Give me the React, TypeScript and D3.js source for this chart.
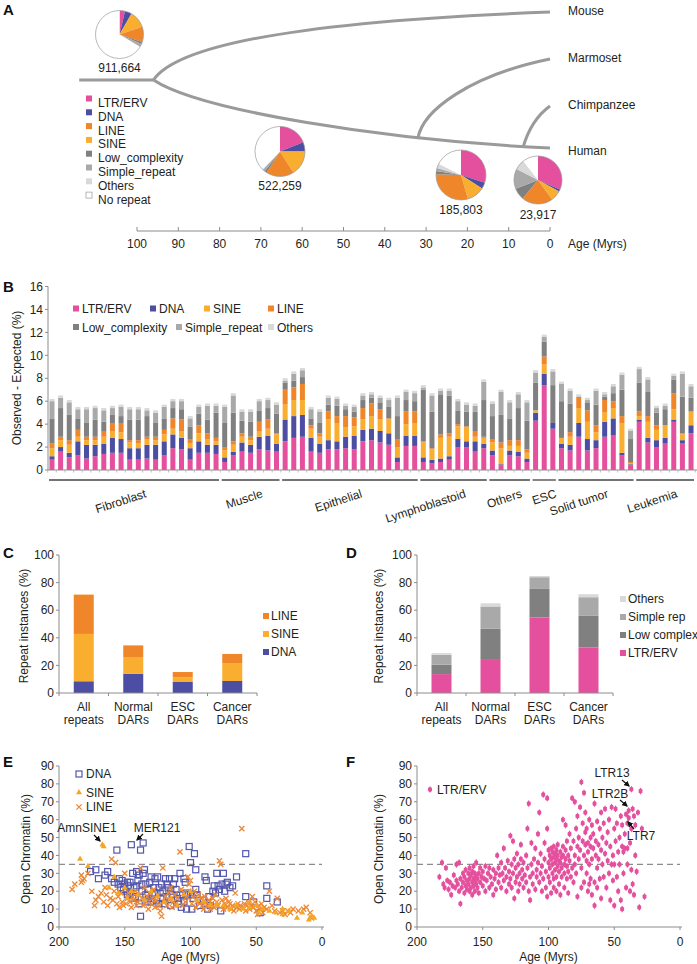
import React from 'react';
import * as d3 from 'd3';

const FONT = '"Liberation Sans", Arial, Helvetica, sans-serif';
const TXT = '#231F20';
const AXC = '#8C8C8C';
const C_LTR = '#E4509E';
const C_DNA = '#4B4EA2';
const C_LINE = '#F0862A';
const C_SINE = '#F9AE2F';
const C_LOW = '#808080';
const C_SIMPLE = '#A9A9A9';
const C_OTHERS = '#D9D9D9';

// ---------------- Panel A data ----------------
const speciesNames = ['Mouse', 'Marmoset', 'Chimpanzee', 'Human'];
const ageTicksA = [100, 90, 80, 70, 60, 50, 40, 30, 20, 10, 0];
const rootAge = 114;
const splitAges = [96, 32, 6.5];
const pieCounts = ['911,664', '522,259', '185,803', '23,917'];
const pieLTR = [3.7, 19, 30, 31.5];
const pieDNA = [4.6, 6, 4, 1.5];
const pieSINE = [11.5, 16, 11.5, 7];
const pieLINE = [10.3, 18, 30, 21];
const pieLow = [1.4, 1.5, 2, 8];
const pieSimple = [2, 1.5, 2, 13.5];
const pieOthers = [0.5, 0.5, 3, 7];
const pieNone = [66, 37.5, 17.5, 10.5];
const pieLegend = ['LTR/ERV', 'DNA', 'LINE', 'SINE', 'Low_complexity', 'Simple_repeat', 'Others', 'No repeat'];

// ---------------- Panel B data ----------------
const groupNames = ['Fibroblast', 'Muscle', 'Epithelial', 'Lymphoblastoid', 'Others', 'ESC', 'Solid tumor', 'Leukemia'];
const groupSizes = [20, 7, 16, 8, 5, 3, 9, 7];
const ticksB = [0, 2, 4, 6, 8, 10, 12, 14, 16];
const ltrB = [0.9,1.6,1.1,1.3,1.0,1.2,1.4,1.5,1.5,0.9,0.9,1.0,0.9,1.3,1.9,1.8,0.9,1.5,1.5,1.4, 0.7,1.3,1.6,1.5,1.8,1.7,1.6, 2.5,2.8,2.9,1.6,1.5,1.8,1.8,1.9,1.8,2.5,2.6,2.4,2.2,0.7,2.1,2.1, 0.7,0.6,0.7,0.9,2.0,2.0,1.6,1.9, 1.3,0.4,1.3,1.2,0.7, 4.3,7.4,3.6, 1.9,1.7,2.9,1.7,1.9,2.9,3.0,1.3,0.4, 4.2,2.4,2.0,2.3,4.2,2.3,3.2];
const dnaB = [0.3,0.4,0.4,1.2,1.2,1.0,0.9,1.3,1.2,1.0,1.0,1.2,1.3,1.2,1.2,1.0,1.0,1.0,0.7,0.8, 0.4,0.3,0.8,0.7,1.1,1.3,0.7, 1.9,1.9,1.9,1.2,0.8,0.8,0.7,1.0,1.2,1.0,1.0,1.0,1.0,0.4,0.9,0.9, 0.4,0.3,0.3,0.3,0.7,0.5,0.9,0.4, 0.4,0.1,0.4,0.4,0.3, 0.7,1.0,0.5, 0.4,0.5,1.2,1.0,0.7,1.3,1.5,0.2,0.1, 0.2,0.4,0.6,0.5,0.2,0.3,0.7];
const sineB = [0.7,0.6,0.7,0.4,0.4,0.4,0.6,0.6,0.6,0.5,0.4,0.5,0.4,0.6,0.5,0.6,0.4,0.7,0.5,0.3, 0.6,0.6,0.5,0.4,0.5,0.6,0.8, 1.3,1.4,1.3,0.8,0.6,1.8,1.6,0.8,0.8,0.9,1.1,1.0,1.2,0.9,1.0,1.1, 1.3,0.9,1.8,1.7,1.1,1.2,0.4,0.5, 0.7,1.4,0.4,0.5,0.5, 0.2,0.8,0.0, 0.5,0.7,1.3,1.5,0.7,0.8,0.9,2.6,0.1, 0.3,1.4,0.9,1.1,0.9,0.5,1.2];
const lineB = [0.4,0.3,0.4,0.6,0.3,0.3,0.5,0.7,0.8,0.2,0.3,0.2,0.3,0.4,0.9,1.0,0.4,0.7,0.5,0.3, 0.3,0.3,0.3,0.3,0.8,0.8,0.1, 1.3,1.1,1.4,0.3,0.3,0.7,0.6,1.0,0.8,1.0,1.1,0.9,0.1,0.7,1.1,1.0, 0.1,0.1,0.3,0.3,0.2,0.1,0.5,0.1, 0.3,0.5,0.5,0.5,0.3, 0.0,0.7,0.0, 0.0,0.4,0.9,1.0,0.6,1.1,0.6,0.6,0.1, 0.4,0.5,0.4,0.0,1.4,0.1,0.0];
const lowB = [2.2,2.5,2.2,1.0,1.2,1.5,0.8,0.7,0.6,1.8,1.8,1.8,1.2,1.0,0.9,0.9,1.1,1.0,1.2,2.2, 2.1,2.5,1.1,1.3,1.0,1.0,1.7, 0.6,0.6,0.6,0.6,0.9,0.6,0.9,0.6,0.5,0.7,0.5,0.6,1.0,2.0,1.0,0.9, 4.5,3.2,3.5,3.3,1.2,1.3,1.7,3.2, 2.0,2.4,1.9,2.8,2.5, 2.4,1.3,3.3, 3.2,2.5,0.1,0.7,1.8,0.3,0.7,2.3,2.0, 2.5,2.1,1.1,1.4,1.2,3.2,1.2];
const simpleB = [1.5,0.9,1.1,0.8,1.2,1.0,1.0,0.6,0.8,0.9,0.9,0.5,0.9,1.0,0.6,0.7,0.7,0.6,1.2,0.6, 1.4,1.5,0.8,0.9,0.8,0.7,0.8, 0.2,0.6,0.6,0.8,1.0,0.6,0.6,0.3,0.4,0.4,0.3,0.4,0.6,1.6,0.7,0.7, 0.2,1.4,0.3,0.4,0.8,0.6,0.5,1.6, 1.1,2.0,1.4,1.2,1.6, 0.9,0.4,1.2, 1.5,1.1,0.0,0.2,1.2,0.2,0.6,1.3,0.7, 1.2,1.1,0.4,0.3,0.3,2.0,1.0];
const othersB = [0.2,0.2,0.2,0.2,0.2,0.2,0.2,0.2,0.2,0.2,0.2,0.2,0.2,0.2,0.2,0.2,0.2,0.2,0.2,0.2, 0.2,0.2,0.2,0.2,0.2,0.2,0.2, 0.2,0.2,0.2,0.2,0.2,0.2,0.2,0.2,0.2,0.2,0.2,0.2,0.2,0.2,0.2,0.2, 0.2,0.2,0.2,0.2,0.2,0.2,0.2,0.2, 0.2,0.2,0.2,0.2,0.2, 0.2,0.2,0.2, 0.2,0.2,0.2,0.2,0.2,0.2,0.2,0.2,0.2, 0.2,0.2,0.2,0.2,0.2,0.2,0.2];

// ---------------- Panels C / D data ----------------
const catLine1 = ['All', 'Normal', 'ESC', 'Cancer'];
const catLine2 = ['repeats', 'DARs', 'DARs', 'DARs'];
const ticksCD = [0, 20, 40, 60, 80, 100];
const cDNA = [8.5, 14.0, 8.0, 8.7];
const cSINE = [34.3, 12.1, 3.4, 13.0];
const cLINE = [28.5, 8.4, 3.8, 6.6];
const dLTR = [13.7, 24.6, 54.7, 33.0];
const dLow = [6.8, 21.9, 20.7, 22.9];
const dSimple = [7.2, 16.2, 8.5, 13.5];
const dOthers = [1.2, 2.3, 0.9, 2.2];

// ---------------- Panels E / F data (age Myrs, open chromatin %) ----------------
const ticksEFx = [200, 150, 100, 50, 0];
const ticksEFy = [0, 10, 20, 30, 40, 50, 60, 70, 80, 90];
const thresholdEF = 35;
const dnaPts = [[176,31],[172,32],[170,27],[165,29],[163,31],[160,27],[158,25],[156,43],[155,24],[153,22],[152,26],[150,24],[149,20],[148,18],[147,23],[146,25],[145,46],[144,30],[143,22],[142,17],[141,31],[140,26],[139,13],[138,6],[138,43],[137,24],[136,47],[136,30],[135,32],[134,18],[133,14],[132,21],[131,25],[130,14],[129,18],[128,22],[127,27],[126,15],[125,28],[124,13],[123,19],[122,24],[121,20],[120,13],[119,27],[118,17],[117,22],[116,27],[115,12],[114,18],[113,24],[112,27],[110,16],[109,13],[108,30],[107,11],[106,18],[105,14],[104,25],[103,10],[102,18],[101,45],[100,36],[99,10],[98,16],[97,41],[96,32],[95,18],[93,12],[90,15],[89,28],[88,26],[87,10],[86,17],[85,12],[83,20],[82,23],[81,19],[80,30],[79,23],[78,21],[77,9],[76,24],[75,30],[74,20],[73,24],[72,25],[70,22],[68,23],[65,28],[58,41],[58,17],[52,14],[47,8],[42,23],[42,16],[34,14],[154,27],[151,21],[148,25],[146,19],[144,16],[141,23],[139,29],[137,20],[134,24],[132,16],[130,28],[127,19],[124,22],[121,16],[118,24],[115,20],[111,21],[108,18],[105,27],[103,19],[100,18],[96,21]];
const sinePts = [[184,38],[178,34],[167,46],[166,45],[162,22],[158,28],[155,19],[150,22],[148,16],[145,20],[140,18],[135,15],[130,20],[125,17],[120,14],[115,16],[110,12],[105,18],[100,20],[95,15],[90,14],[85,12],[80,13],[75,12],[70,10],[65,12],[60,10],[55,11],[50,12],[45,10],[40,9],[35,8],[30,7],[25,9],[19,5],[15,8],[10,4],[8,6],[6,5],[30,10],[55,14],[48,8]];
const linePts = [[190,21],[188,24],[183,25],[183,29],[182,26],[181,27],[178,30],[175,20],[173,12],[172,15],[170,17],[168,19],[166,14],[165,22],[164,18],[163,12],[161,16],[160,38],[159,15],[158,20],[157,36],[156,13],[155,17],[154,11],[153,19],[152,14],[151,12],[150,30],[149,13],[148,16],[147,19],[146,14],[145,11],[144,17],[143,15],[142,20],[141,12],[140,14],[139,18],[138,33],[137,16],[136,12],[135,22],[134,14],[133,17],[132,10],[131,19],[130,13],[129,16],[128,21],[127,11],[126,15],[125,18],[124,12],[123,9],[122,6],[121,33],[120,14],[119,17],[118,12],[117,19],[116,15],[115,22],[114,11],[113,14],[112,18],[111,13],[110,16],[108,42],[107,21],[106,12],[105,19],[104,14],[103,17],[102,28],[101,24],[100,26],[99,13],[98,17],[97,20],[96,11],[95,14],[94,18],[93,13],[92,16],[91,12],[90,10],[89,17],[88,14],[87,12],[86,15],[85,10],[84,13],[83,16],[82,11],[81,18],[80,14],[79,12],[78,37],[77,35],[76,15],[75,10],[74,13],[73,16],[72,11],[71,14],[70,13],[69,10],[68,12],[67,9],[66,19],[65,11],[64,13],[63,10],[62,12],[61,55],[60,11],[59,13],[58,9],[57,12],[56,14],[55,10],[54,12],[53,17],[52,11],[51,14],[50,9],[49,7],[48,12],[47,10],[46,13],[45,8],[44,11],[42,10],[40,20],[38,12],[36,9],[34,16],[32,8],[30,9],[28,7],[26,9],[24,8],[22,10],[18,9],[14,10],[12,11],[9,8],[8,5]];
const ltrPts = [[183,28],[181,36],[180,24],[179,22],[178,33],[177,26],[176,21],[175,25],[174,18],[173,23],[172,29],[171,22],[170,35],[170,26],
[169,24],[168,20],[168,36],[167,13],[167,27],[166,22],[165,30],[165,25],[164,19],[164,28],[163,23],[163,32],[162,26],[162,21],[161,30],[161,24],[160,33],[160,27],[160,20],[159,22],[159,29],[158,25],[158,31],[158,18],[157,27],[157,23],[157,34],[156,26],[156,20],[156,30],[155,28],[155,24],[155,36],[154,22],[154,27],
[153,30],[153,19],[152,25],[152,33],[151,28],[150,23],[150,31],[149,27],[148,20],[148,34],[147,26],[146,30],[145,22],[145,33],[144,28],[143,24],[142,18],[142,32],[141,27],[140,30],[140,21],
[139,40],[138,25],[138,33],[137,29],[136,22],[136,36],[135,30],[134,26],[134,44],[133,33],[132,20],[132,28],[131,37],[130,24],[130,31],[129,51],[129,27],[128,35],[128,22],[127,48],[127,30],[126,38],[126,16],[125,25],[125,33],[124,28],[124,41],[123,20],[123,35],[122,30],[122,24],[121,46],[121,38],[120,27],[120,32],
[119,22],[119,36],[118,29],[117,40],[117,25],[116,55],[116,33],[115,69],[115,20],[114,15],[114,28],[113,47],[113,35],[112,30],[112,24],[111,38],[110,21],[110,44],[109,32],[109,28],[108,36],[108,52],[107,25],[107,64],[106,30],[106,41],[105,20],[105,34],[104,74],[104,27],[103,47],[103,38],[102,31],[102,22],[101,72],[101,55],[101,17],[100,36],[100,28],[100,43],
[99,40],[99,33],[99,25],[98,44],[98,38],[98,19],[97,42],[97,35],[97,30],[96,39],[96,45],[96,27],[96,22],[95,41],[95,36],[95,32],[94,43],[94,38],[94,28],[94,20],[93,40],[93,34],[93,46],[92,37],[92,31],[92,24],[91,42],[91,36],[91,18],[90,39],[90,33],[90,28],[89,45],[89,40],[89,60],[88,35],[88,30],[88,22],[87,43],[87,38],[87,57],[86,34],[86,27],[86,48],[85,40],[85,31],[85,19],
[84,37],[84,52],[83,44],[83,28],[82,72],[82,33],[81,48],[81,25],[80,70],[80,40],[80,35],[79,55],[79,30],[78,45],[78,62],[78,17],[77,50],[77,38],[76,67],[76,43],[75,81],[75,33],[75,22],[74,58],[74,48],[73,75],[73,40],[73,25],[72,53],[72,46],[72,64],[71,37],[71,30],[71,55],[70,47],[70,42],[70,20],[69,60],[69,35],[69,24],[68,45],[68,50],[68,27],[67,57],[67,38],[67,18],[66,44],[66,52],[65,25],[65,12],[65,69],[64,40],[64,48],[63,59],[63,22],[63,33],[62,46],[62,38],[61,55],[61,27],[60,64],[60,43],[60,16],
[59,50],[59,35],[58,58],[58,28],[57,41],[57,66],[56,47],[56,22],[55,53],[55,37],[54,30],[54,60],[53,45],[53,15],[52,67],[52,35],[51,40],[51,26],[50,55],[50,12],[50,35],[49,66],[49,48],[48,28],[48,58],[47,42],[47,20],[46,50],[46,35],[45,62],[45,15],[44,45],[44,10],[44,57],[43,42],[43,30],[42,52],[42,44],[41,63],[41,22],[40,44],[40,58],[40,35],
[39,65],[39,61],[38,47],[38,20],[37,77],[37,32],[37,55],[36,66],[36,24],[35,62],[35,18],[34,57],[34,40],[33,31],[32,64],[31,11],[30,76],[29,55],[27,17]];

const T = (props: any) => <text fontFamily={FONT} fill={TXT} fontSize={12} {...props} />;

function PanelLetter({ x, y, s }: any) {
  return <text x={x} y={y} fontFamily={FONT} fontWeight="bold" fontSize={15} fill="#111">{s}</text>;
}

// ---------------- Panel A ----------------
function PanelA() {
  const x = d3.scaleLinear().domain([100, 0]).range([137, 550]);
  const [s1, s2, s3] = splitAges;
  const rootY = 80;
  const paths = [
    `M${x(rootAge)},${rootY} L${x(s1)},${rootY}`,
    `M${x(s1)},${rootY} C${x(s1 - 6.5)},40 ${x(53)},20 ${x(0)},12`,
    `M${x(s1)},${rootY} C${x(s1 - 11)},110 ${x(41)},140 ${x(0)},148`,
    `M${x(s2)},139 C${x(s2 - 1)},110 ${x(19)},75 ${x(0)},59`,
    `M${x(s3)},147 C${x(s3 - 1.2)},130 ${x(3)},115 ${x(0)},106`,
  ];
  const speciesY = [15, 62, 109, 155];
  const pieLayout = [
    { cx: 119.5, cy: 34.5, r: 24, ly: 72 },
    { cx: 280, cy: 151.5, r: 25, ly: 190 },
    { cx: 461, cy: 175, r: 25, ly: 214 },
    { cx: 538, cy: 180, r: 24, ly: 219 },
  ];
  const pieCols = [C_LTR, C_DNA, C_SINE, C_LINE, C_LOW, C_SIMPLE, C_OTHERS, '#FFFFFF'];
  const legendCols = [C_LTR, C_DNA, C_LINE, C_SINE, C_LOW, C_SIMPLE, C_OTHERS, '#FFFFFF'];
  const pieGen = d3.pie<number>().sort(null).value((d) => d);
  return (
    <g>
      <PanelLetter x={3} y={15} s="A" />
      {paths.map((p, i) => (
        <path key={i} d={p} fill="none" stroke="#9A9A9A" strokeWidth={3} strokeLinecap="butt" />
      ))}
      {speciesNames.map((s, i) => (
        <T key={s} x={568} y={speciesY[i]}>{s}</T>
      ))}
      {pieCounts.map((c, i) => {
        const L = pieLayout[i];
        const vals = [pieLTR[i], pieDNA[i], pieSINE[i], pieLINE[i], pieLow[i], pieSimple[i], pieOthers[i], pieNone[i]];
        const arcs = pieGen(vals);
        const arc = d3.arc<any>().innerRadius(0).outerRadius(L.r);
        return (
          <g key={c}>
            <g transform={`translate(${L.cx},${L.cy})`}>
              {arcs.map((a, j) => (
                <path key={j} d={arc(a) as string} fill={pieCols[j]} />
              ))}
              <circle r={L.r} fill="none" stroke="#9A9A9A" strokeWidth={0.7} />
            </g>
            <T x={L.cx} y={L.ly} textAnchor="middle">{c}</T>
          </g>
        );
      })}
      {pieLegend.map((s, i) => (
        <g key={s}>
          <rect x={86} y={103 + i * 13.8 - 7.5} width={6} height={6} fill={legendCols[i]} stroke={i === 7 ? '#999' : 'none'} strokeWidth={0.7} />
          <T x={98} y={103 + i * 13.8 + 4}>{s}</T>
        </g>
      ))}
      <line x1={x(100)} x2={x(0)} y1={231} y2={231} stroke={AXC} strokeWidth={1} />
      {ageTicksA.map((t) => (
        <g key={t}>
          <line x1={x(t)} x2={x(t)} y1={231} y2={227} stroke={AXC} />
          <T x={x(t)} y={248} textAnchor="middle">{t}</T>
        </g>
      ))}
      <T x={568} y={248}>Age (Myrs)</T>
    </g>
  );
}

// ---------------- Panel B ----------------
const keysB = ['ltr', 'dna', 'sine', 'line', 'low', 'simple', 'others'];
const colB = [C_LTR, C_DNA, C_SINE, C_LINE, C_LOW, C_SIMPLE, C_OTHERS];
function PanelB() {
  const n = ltrB.length;
  const rows = ltrB.map((v, i) => ({ ltr: v, dna: dnaB[i], sine: sineB[i], line: lineB[i], low: lowB[i], simple: simpleB[i], others: othersB[i] }));
  const series = d3.stack<any>().keys(keysB)(rows);
  const x = d3.scaleBand<number>().domain(d3.range(n)).range([48, 695]).paddingInner(0.42).paddingOuter(0.17);
  const y = d3.scaleLinear().domain([0, 16]).range([470, 286.5]);
  const bw = x.bandwidth();
  const step = x.step();
  let start = 0;
  const groups = groupNames.map((g, i) => {
    const s = start;
    const e = start + groupSizes[i] - 1;
    start += groupSizes[i];
    return { g, x0: (x(s) as number) - 0.5, x1: (x(e) as number) + bw + 0.5 };
  });
  const legendItems = [
    { t: 'LTR/ERV', c: C_LTR, x: 76, y: 309 },
    { t: 'DNA', c: C_DNA, x: 153, y: 309 },
    { t: 'SINE', c: C_SINE, x: 207, y: 309 },
    { t: 'LINE', c: C_LINE, x: 271, y: 309 },
    { t: 'Low_complexity', c: C_LOW, x: 76, y: 327.5 },
    { t: 'Simple_repeat', c: C_SIMPLE, x: 179, y: 327.5 },
    { t: 'Others', c: C_OTHERS, x: 271, y: 327.5 },
  ];
  return (
    <g>
      <PanelLetter x={3} y={292} s="B" />
      {series.map((s, k) => (
        <g key={k} fill={colB[k]}>
          {s.map((d, i) => (
            <rect key={i} x={x(i)} y={y(d[1])} width={bw} height={Math.max(0, y(d[0]) - y(d[1]))} />
          ))}
        </g>
      ))}
      <line x1={48} x2={48} y1={286.5} y2={470} stroke={AXC} />
      {ticksB.map((t) => (
        <g key={t}>
          <line x1={45} x2={48} y1={y(t)} y2={y(t)} stroke={AXC} />
          <T x={43} y={y(t)} dy="0.35em" textAnchor="end">{t}</T>
        </g>
      ))}
      <line x1={48} x2={697} y1={470} y2={470} stroke={AXC} />
      {d3.range(n + 1).map((i) => (
        <line key={i} x1={48 + x.paddingOuter() * step + i * step - (step - bw) / 2} x2={48 + x.paddingOuter() * step + i * step - (step - bw) / 2} y1={470} y2={472.5} stroke="#B0B0B0" strokeWidth={0.8} />
      ))}
      <T x={21} y={378} textAnchor="middle" transform="rotate(-90,21,378)">Observed - Expected (%)</T>
      {legendItems.map((l) => (
        <g key={l.t}>
          <rect x={l.x - 3} y={l.y - 3.5} width={6} height={6} fill={l.c} />
          <T x={l.x + 6} y={l.y} dy="0.35em">{l.t}</T>
        </g>
      ))}
      {groups.map((g) => {
        const cx = (g.x0 + g.x1) / 2 + 13;
        const cy = 497;
        return (
          <g key={g.g}>
            <line x1={g.x0} x2={g.x1} y1={480} y2={480} stroke="#444" strokeWidth={1.3} />
            <T x={cx} y={cy} textAnchor="end" transform={`rotate(-18,${cx},${cy})`}>{g.g}</T>
          </g>
        );
      })}
    </g>
  );
}

// ---------------- Panels C / D ----------------
function StackPanel({ x0, x1, letter, letterX, labelX, values, colors, legend, legendX, legendY }: any) {
  const y = d3.scaleLinear().domain([0, 100]).range([693, 555]);
  const x = d3.scaleBand<number>().domain(d3.range(catLine1.length)).range([x0, x1]).padding(0);
  const rows = catLine1.map((_, i) => {
    const o: any = {};
    values.forEach((arr: number[], k: number) => (o['k' + k] = arr[i]));
    return o;
  });
  const keys = values.map((_: any, k: number) => 'k' + k);
  const series = d3.stack<any>().keys(keys)(rows);
  const bw = 20;
  return (
    <g>
      <PanelLetter x={letterX} y={558} s={letter} />
      {series.map((s, k) => (
        <g key={k} fill={colors[k]}>
          {s.map((d, i) => (
            <rect key={i} x={(x(i) as number) + x.bandwidth() / 2 - bw / 2} y={y(d[1])} width={bw} height={y(d[0]) - y(d[1])} />
          ))}
        </g>
      ))}
      <line x1={x0} x2={x0} y1={555} y2={693} stroke={AXC} />
      {ticksCD.map((t) => (
        <g key={t}>
          <line x1={x0 - 3} x2={x0} y1={y(t)} y2={y(t)} stroke={AXC} />
          <T x={x0 - 5} y={y(t)} dy="0.35em" textAnchor="end">{t}</T>
        </g>
      ))}
      <line x1={x0} x2={x1} y1={693} y2={693} stroke={AXC} />
      {d3.range(catLine1.length + 1).map((i) => (
        <line key={i} x1={x0 + i * x.step()} x2={x0 + i * x.step()} y1={693} y2={696} stroke={AXC} />
      ))}
      {catLine1.map((c, i) => (
        <g key={i}>
          <T x={(x(i) as number) + x.bandwidth() / 2} y={711} textAnchor="middle">{c}</T>
          <T x={(x(i) as number) + x.bandwidth() / 2} y={723.5} textAnchor="middle">{catLine2[i]}</T>
        </g>
      ))}
      <T x={labelX} y={626} textAnchor="middle" transform={`rotate(-90,${labelX},626)`}>Repeat instances (%)</T>
      {legend.map((l: any, i: number) => (
        <g key={l.t}>
          <rect x={legendX} y={legendY + i * 18 - 7} width={6} height={6} fill={l.c} />
          <T x={legendX + 8} y={legendY + i * 18}>{l.t}</T>
        </g>
      ))}
    </g>
  );
}

// ---------------- Panels E / F ----------------
function ScatterAxes({ x0, x1, labelX, letter, letterX }: any) {
  const x = d3.scaleLinear().domain([200, 0]).range([x0, x1]);
  const y = d3.scaleLinear().domain([0, 90]).range([927, 766]);
  return (
    <g>
      <PanelLetter x={letterX} y={767} s={letter} />
      <line x1={x0} x2={x0} y1={766} y2={927} stroke={AXC} />
      {ticksEFy.map((t) => (
        <g key={t}>
          <line x1={x0 - 3} x2={x0} y1={y(t)} y2={y(t)} stroke={AXC} />
          <T x={x0 - 5} y={y(t)} dy="0.35em" textAnchor="end">{t}</T>
        </g>
      ))}
      <line x1={x0} x2={x1 + 2} y1={927} y2={927} stroke={AXC} />
      {ticksEFx.map((t) => (
        <g key={t}>
          <line x1={x(t)} x2={x(t)} y1={927} y2={930} stroke={AXC} />
          <T x={x(t)} y={946} textAnchor="middle">{t}</T>
        </g>
      ))}
      <T x={(x0 + x1) / 2} y={961} textAnchor="middle">Age (Myrs)</T>
      <T x={labelX} y={849} textAnchor="middle" transform={`rotate(-90,${labelX},849)`}>Open Chromatin (%)</T>
      <line x1={x0} x2={x1} y1={y(thresholdEF)} y2={y(thresholdEF)} stroke="#8C8C8C" strokeWidth={1.3} strokeDasharray="6,4" />
    </g>
  );
}

const triPath = d3.symbol().type(d3.symbolTriangle).size(16)() as string;
const diaPath = d3.symbol().type(d3.symbolDiamond).size(15)() as string;
const crossPath = d3.symbol().type(d3.symbolCross).size(12)() as string;

function Cross({ cx, cy }: any) {
  const r = 2.6;
  return <path d={`M${cx - r},${cy - r}L${cx + r},${cy + r}M${cx - r},${cy + r}L${cx + r},${cy - r}`} stroke="#EE8834" strokeWidth={1.3} />;
}

function LtrMark({ tx, ty }: any) {
  return (
    <g transform={`translate(${tx},${ty})`} fill={C_LTR}>
      <path d={diaPath} />
      <path d={crossPath} transform="rotate(45)" />
    </g>
  );
}

function PanelE() {
  const x = d3.scaleLinear().domain([200, 0]).range([59, 322]);
  const y = d3.scaleLinear().domain([0, 90]).range([927, 766]);
  return (
    <g>
      <ScatterAxes x0={59} x1={322} labelX={30} letter="E" letterX={3} />
      {dnaPts.map((p, i) => (
        <rect key={i} x={x(p[0]) - 3} y={y(p[1]) - 3} width={6} height={6} fill="none" stroke="#5356AD" strokeWidth={1.2} />
      ))}
      {linePts.map((p, i) => <Cross key={i} cx={x(p[0])} cy={y(p[1])} />)}
      {sinePts.map((p, i) => (
        <path key={i} d={triPath} transform={`translate(${x(p[0])},${y(p[1])})`} fill="#F6A623" />
      ))}
      <rect x={76} y={771} width={6} height={6} fill="none" stroke="#5356AD" strokeWidth={1.2} />
      <T x={86} y={778}>DNA</T>
      <path d={triPath} transform="translate(79,792.5)" fill="#F6A623" />
      <T x={86} y={796.5}>SINE</T>
      <Cross cx={79} cy={807} />
      <T x={86} y={811}>LINE</T>
      <T x={87} y={832} textAnchor="middle">AmnSINE1</T>
      <line x1={94} y1={835} x2={100} y2={841} stroke="#111" strokeWidth={1.2} markerEnd="url(#arr)" />
      <T x={157} y={832} textAnchor="middle">MER121</T>
      <line x1={143} y1={834} x2={137} y2={840} stroke="#111" strokeWidth={1.2} markerEnd="url(#arr)" />
    </g>
  );
}

function PanelF() {
  const x = d3.scaleLinear().domain([200, 0]).range([417, 680]);
  const y = d3.scaleLinear().domain([0, 90]).range([927, 766]);
  return (
    <g>
      <ScatterAxes x0={417} x1={680} labelX={383} letter="F" letterX={346} />
      {ltrPts.map((p, i) => (
        <LtrMark key={i} tx={x(p[0])} ty={y(p[1])} />
      ))}
      <LtrMark tx={430} ty={789.5} />
      <T x={437} y={794}>LTR/ERV</T>
      <T x={612} y={777} textAnchor="middle">LTR13</T>
      <line x1={622} y1={780} x2={629} y2={786} stroke="#111" strokeWidth={1.2} markerEnd="url(#arr)" />
      <T x={610} y={798} textAnchor="middle">LTR2B</T>
      <line x1={620} y1={800} x2={627} y2={806} stroke="#111" strokeWidth={1.2} markerEnd="url(#arr)" />
      <T x={641} y={840} textAnchor="middle">LTR7</T>
      <line x1={634} y1={829} x2={628} y2={822} stroke="#111" strokeWidth={1.2} markerEnd="url(#arr)" />
    </g>
  );
}

export default function App() {
  return (
    <svg width={697} height={964} style={{ position: 'absolute', left: 0, top: 0, background: '#fff' }}>
      <defs>
        <marker id="arr" viewBox="0 0 10 10" refX="8" refY="5" markerWidth="5" markerHeight="5" orient="auto">
          <path d="M0,0 L10,5 L0,10 z" fill="#111" />
        </marker>
      </defs>
      <rect width={697} height={964} fill="#fff" />
      <PanelA />
      <PanelB />
      <StackPanel
        x0={59} x1={257} letter="C" letterX={3} labelX={28}
        values={[cDNA, cSINE, cLINE]} colors={[C_DNA, C_SINE, C_LINE]}
        legend={[{ t: 'LINE', c: C_LINE }, { t: 'SINE', c: C_SINE }, { t: 'DNA', c: C_DNA }]}
        legendX={263} legendY={620}
      />
      <StackPanel
        x0={417} x1={613} letter="D" letterX={346} labelX={383}
        values={[dLTR, dLow, dSimple, dOthers]} colors={[C_LTR, C_LOW, C_SIMPLE, C_OTHERS]}
        legend={[{ t: 'Others', c: C_OTHERS }, { t: 'Simple rep', c: C_SIMPLE }, { t: 'Low complex', c: C_LOW }, { t: 'LTR/ERV', c: C_LTR }]}
        legendX={620} legendY={603}
      />
      <PanelE />
      <PanelF />
    </svg>
  );
}
